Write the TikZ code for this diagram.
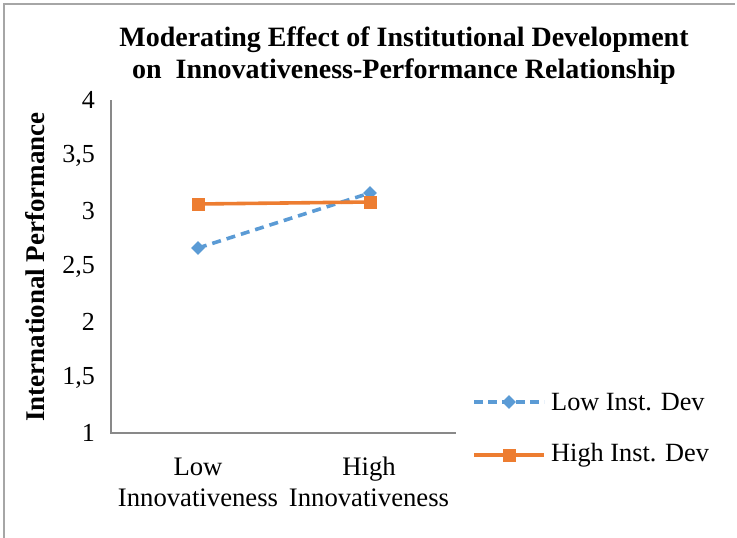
\documentclass[tikz,border=0pt]{standalone}
\usepackage{fontspec}
\setmainfont{Liberation Serif}
\usetikzlibrary{shapes.geometric}
\definecolor{lowblue}{HTML}{5B9BD5}
\definecolor{highorange}{HTML}{ED7D31}
\definecolor{axisgray}{HTML}{898989}
\definecolor{framegray}{HTML}{A6A6A6}
\tikzset{
  lowline/.style={lowblue, line width=3.6pt, dash pattern=on 9pt off 6pt},
  highline/.style={highorange, line width=3.6pt},
  lowmark/.style={diamond, fill=lowblue, inner sep=0pt, minimum size=14pt},
  highmark/.style={rectangle, fill=highorange, inner sep=0pt, minimum size=13pt},
  ticklabel/.style={anchor=east, font=\fontsize{26}{30}\selectfont, inner sep=0pt},
  catlabel/.style={align=center, font=\fontsize{26.7}{31}\selectfont, inner sep=0pt},
  legendtext/.style={anchor=west, font=\fontsize{26.3}{30}\selectfont, inner sep=0pt}
}
\begin{document}
\begin{tikzpicture}[x=1pt, y=-1pt]
  \useasboundingbox (0,0) rectangle (737,538);
  \draw [framegray, line width=1.5pt] (4,538) -- (4,4) -- (735,4);

  \node [align=center, font=\bfseries\fontsize{28}{32}\selectfont] (title) at (404,56)
    {Moderating Effect of Institutional Development\\on\ \ Innovativeness-Performance Relationship};

  % axes
  \coordinate (top) at (111,100);
  \coordinate (origin) at (111,433);
  \coordinate (xend) at (456,433);
  \draw [axisgray, line width=2pt] (top) -- (origin) -- (xend);

  \foreach \v/\lab in {1/1, 1.5/{1,5}, 2/2, 2.5/{2,5}, 3/3, 3.5/{3,5}, 4/4}
    \node [ticklabel] at (95, 433-111*\v+111) {\lab};

  \node [rotate=90, font=\bfseries\fontsize{27}{30}\selectfont] (ylab) at (35,267) {International Performance};

  \node [catlabel] (catlow) at (198,482) {Low\\Innovativeness};
  \node [catlabel] (cathigh) at (369,482) {High\\Innovativeness};

  % data
  \coordinate (lowA) at (198,248);
  \coordinate (lowB) at (370,193);
  \coordinate (highA) at (198,204);
  \coordinate (highB) at (370,202);
  \draw [lowline] (lowA) -- (lowB);
  \draw [highline] (highA) -- (highB);
  \node [lowmark] at (lowA) {};
  \node [lowmark] at (lowB) {};
  \node [highmark] at (highA) {};
  \node [highmark] at (highB) {};

  % legend
  \coordinate (lowL) at (474,402);
  \coordinate (lowR) at (544,402);
  \coordinate (highL) at (474,455);
  \coordinate (highR) at (544,455);
  \draw [lowline, dash pattern=on 9pt off 5pt] (lowL) -- (lowR);
  \node [lowmark] at (509,402) {};
  \draw [highline] (highL) -- (highR);
  \node [highmark] at (509,455) {};
  \node [legendtext] (lowtext) at (551,402) {Low Inst. Dev};
  \node [legendtext] (hightext) at (551,455) {High Inst. Dev};
\end{tikzpicture}
\end{document}
